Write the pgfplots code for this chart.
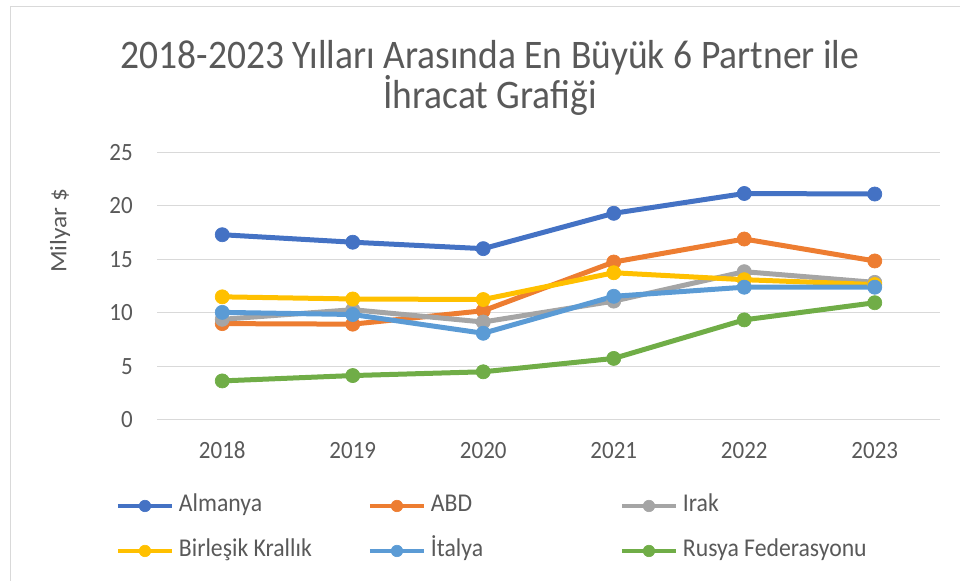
\documentclass[border=0pt]{standalone}
\usepackage{fontspec}
\setmainfont[FakeStretch=0.926]{Carlito}
\newfontfamily\widefont[FakeStretch=1.08]{Carlito}
\usepackage{pgfplots}
\pgfplotsset{compat=1.18}
\definecolor{cAl}{HTML}{4472C4}
\definecolor{cAB}{HTML}{ED7D31}
\definecolor{cIr}{HTML}{A5A5A5}
\definecolor{cBK}{HTML}{FFC000}
\definecolor{cIt}{HTML}{5B9BD5}
\definecolor{cRu}{HTML}{70AD47}
\definecolor{gridgray}{HTML}{D9D9D9}
\definecolor{txt}{HTML}{595959}
\begin{document}
\begin{tikzpicture}
\useasboundingbox (0,0) rectangle (720pt,435.75pt);
\draw[color=gridgray, line width=0.75pt] (7.5pt,0) -- (7.5pt,430.5pt) -- (720pt,430.5pt);
\node[font=\fontsize{30.4pt}{30pt}\selectfont, text=txt, align=center] at (367.5pt,377.25pt) {2018-2023 Yılları Arasında En Büyük 6 Partner ile\\İhracat Grafiği};
\node[rotate=90, font=\widefont\fontsize{17.6pt}{20pt}\selectfont, text=txt] at (45pt,262.5pt) {Milyar \$};
\begin{axis}[
 at={(117.75pt,120.75pt)}, anchor=south west,
 scale only axis, width=587.25pt, height=200.8pt,
 xmin=-0.5, xmax=5.5, ymin=0, ymax=25,
 xtick={0,1,2,3,4,5}, xticklabels={2018,2019,2020,2021,2022,2023},
 ytick={0,5,10,15,20,25},
 axis line style={draw=none},
 major tick length=0pt,
 ymajorgrids, major grid style={color=gridgray, line width=0.75pt},
 tick label style={font=\fontsize{18.6pt}{20pt}\selectfont, text=txt, inner sep=0pt},
 /pgf/number format/assume math mode=true,
 yticklabel style={anchor=east, xshift=-18pt},
 xticklabel style={anchor=north, yshift=-16.3pt},
 every axis plot/.append style={line width=3.75pt, mark=*, mark size=5.3pt, line join=round, line cap=round, mark options={line width=0.5pt}},
 legend columns=3,
 legend cell align=left,
 legend image code/.code={\draw[mark repeat=2, mark phase=2, #1, line width=3pt, line cap=butt, mark size=4.3pt] plot coordinates {(0pt,0pt) (20.25pt,0pt) (40.5pt,0pt)};},
 legend style={at={(-0.0524,-0.2813)}, anchor=north west, draw=none, fill=none, inner sep=0pt, outer sep=0pt, font=\fontsize{19.2pt}{20pt}\selectfont, text=txt, row sep=17.75pt, nodes={inner sep=0pt, text height=12pt, text depth=4pt}},
 /tikz/every odd column/.append style={column sep=3.75pt},
]
\addplot[color=cAl] coordinates {(0,17.3) (1,16.6) (2,16.0) (3,19.3) (4,21.15) (5,21.1)};
\addlegendentry{\makebox[141.75pt][l]{Almanya}}
\addplot[color=cAB] coordinates {(0,9.0) (1,8.95) (2,10.2) (3,14.75) (4,16.9) (5,14.85)};
\addlegendentry{\makebox[141.75pt][l]{ABD}}
\addplot[color=cIr] coordinates {(0,9.4) (1,10.3) (2,9.15) (3,11.1) (4,13.85) (5,12.85)};
\addlegendentry{Irak}
\addplot[color=cBK] coordinates {(0,11.5) (1,11.3) (2,11.25) (3,13.75) (4,13.1) (5,12.65)};
\addlegendentry{\makebox[141.75pt][l]{Birleşik Krallık}}
\addplot[color=cIt] coordinates {(0,10.05) (1,9.85) (2,8.1) (3,11.55) (4,12.4) (5,12.4)};
\addlegendentry{\makebox[141.75pt][l]{İtalya}}
\addplot[color=cRu] coordinates {(0,3.65) (1,4.15) (2,4.5) (3,5.75) (4,9.35) (5,10.95)};
\addlegendentry{Rusya Federasyonu}
\end{axis}
\end{tikzpicture}
\end{document}
